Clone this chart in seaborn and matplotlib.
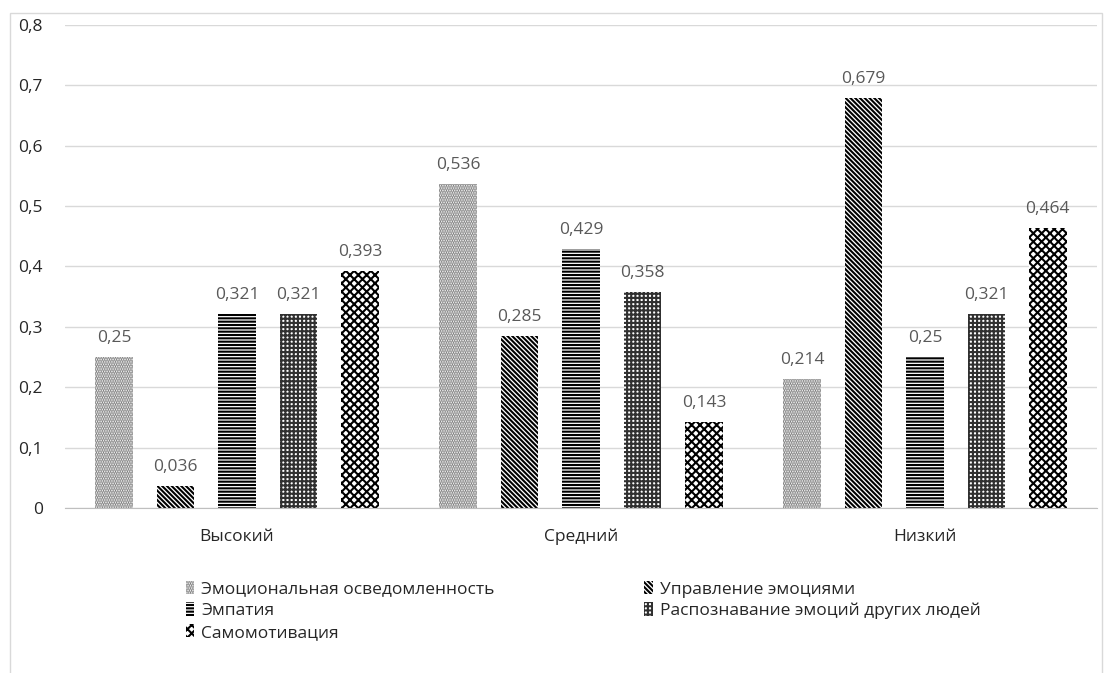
import numpy as np
import pandas as pd
import matplotlib
matplotlib.use('Agg')
import matplotlib.pyplot as plt
import seaborn as sns
from matplotlib.patches import Rectangle, Patch

# --- Data ---
levels = ['Высокий', 'Средний', 'Низкий']
series = ['Эмоциональная осведомленность', 'Управление эмоциями', 'Эмпатия',
          'Распознавание эмоций других людей', 'Самомотивация']
awareness = [0.25, 0.536, 0.214]
management = [0.036, 0.285, 0.679]
empathy = [0.321, 0.429, 0.25]
recognition = [0.321, 0.358, 0.321]
motivation = [0.393, 0.143, 0.464]
y_ticks = [0, 0.1, 0.2, 0.3, 0.4, 0.5, 0.6, 0.7, 0.8]

# --- Styling per series (hatch, hatch colour) ---
hatches = ['.......', '\\\\\\\\\\\\\\', '-----', '++++', 'xxxx']
hatch_colors = ['#7f7f7f', 'black', 'black', '#303030', 'black']


def fmt(v):
    s = f'{v:.3f}'.rstrip('0').rstrip('.')
    return s.replace('.', ',')


def build_frame():
    rows = []
    for name, vals in zip(series, [awareness, management, empathy, recognition, motivation]):
        for lvl, v in zip(levels, vals):
            rows.append({'level': lvl, 'series': name, 'value': v})
    return pd.DataFrame(rows)


df = build_frame()

sns.set_style('white')
plt.rcParams['font.family'] = ['Open Sans', 'DejaVu Sans']
plt.rcParams['hatch.linewidth'] = 1.5

fig = plt.figure(figsize=(11.12, 6.73), dpi=100)
ax = fig.add_axes([0.0585, 0.2452, 0.928, 0.7177])

sns.barplot(data=df, x='level', y='value', hue='series', order=levels, hue_order=series,
            width=0.893, gap=0.39, color='white', legend=False, ax=ax, errorbar=None)

for cont, h, hc in zip(ax.containers, hatches, hatch_colors):
    for bar in cont:
        bar.set_facecolor('white')
        bar.set_hatch(h)
        bar.set_edgecolor(hc)
        bar.set_linewidth(0)
    ax.bar_label(cont, labels=[fmt(b.get_height()) for b in cont], padding=8,
                 fontsize=12.5, color='#595959')

ax.set_ylim(0, 0.8)
ax.set_xlim(-0.5, 2.5)
ax.set_yticks(y_ticks)
ax.set_yticklabels([fmt(t) for t in y_ticks], fontsize=12.5, color='#262626')
ax.yaxis.grid(True, color='#d9d9d9', linewidth=1)
ax.set_axisbelow(True)
ax.set_xlabel('')
ax.set_ylabel('')
ax.tick_params(axis='x', labelsize=12.5, labelcolor='#262626', length=0, pad=15)
ax.tick_params(axis='y', length=0, pad=16)
ax.set_xticks([-0.5, 0.5, 1.5, 2.5], minor=True)
ax.tick_params(axis='x', which='minor', length=5, color='#bfbfbf', width=1)
for side in ['top', 'right', 'left']:
    ax.spines[side].set_visible(False)
ax.spines['bottom'].set_color('#bfbfbf')

# legend: row-major order like the original
handles = [Patch(facecolor='white', hatch=h, edgecolor=hc, linewidth=0)
           for h, hc in zip(hatches, hatch_colors)]
order = [0, 2, 4, 1, 3]
fig.legend([handles[i] for i in order], [series[i] for i in order], ncol=2,
           loc='upper left', bbox_to_anchor=(0.153, 0.16), frameon=False,
           fontsize=12.5, handlelength=0.5, handleheight=0.8, handletextpad=0.4,
           columnspacing=8.6, labelspacing=0.28, labelcolor='#262626')

# outer chart border
fig.patches.append(Rectangle((0.009, -0.01), 0.982, 0.99, transform=fig.transFigure,
                             fill=False, edgecolor='#d9d9d9', linewidth=1))

fig.savefig('out.png', dpi=100)
